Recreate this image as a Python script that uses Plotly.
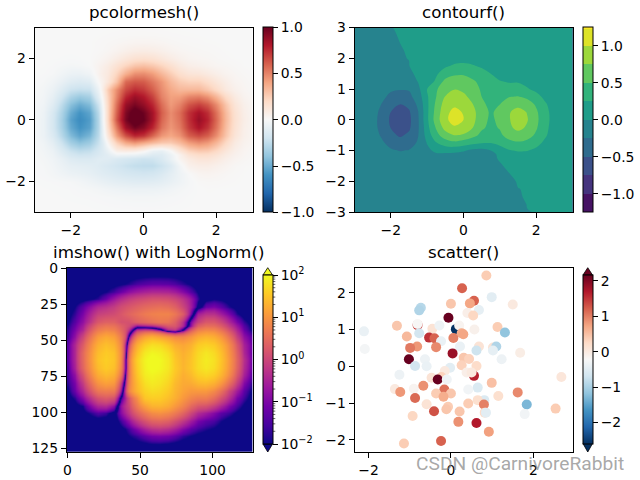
import plotly.graph_objects as go
from plotly.colors import sample_colorscale
import math

W, H = 640, 480
FONT = "DejaVu Sans"
TICK_PX = 13.9
TITLE_PX = 16.7

grid_x = [-3, -2.75, -2.5, -2.25, -2, -1.75, -1.5, -1.25, -1.125, -1, -0.75, -0.5, -0.25, 0,
          0.25, 0.5, 0.75, 1, 1.25, 1.5, 1.75, 2, 2.25, 2.5, 2.75, 3]
grid_y = [-3, -2.75, -2.5, -2.25, -2, -1.75, -1.5, -1.25, -1.125, -1, -0.75, -0.5, -0.25, 0,
          0.25, 0.5, 0.75, 1, 1.25, 1.5, 1.75, 2, 2.25, 2.5, 2.75, 3]

# field values (rows from y=-3 up to y=3)
field = [
 [-.0001,-.0001,-.0002,-.0003,-.0004,-.0006,-.0009,-.0013,-.0015,-.0017,-.002,-.0023,-.0025,-.0026,-.0025,-.0022,-.0018,-.0013,-.0008,-.0004,-.0001,.0001,.0001,.0001,.0001,.0001],
 [-.0002,-.0003,-.0005,-.0008,-.0012,-.002,-.003,-.0045,-.005,-.006,-.007,-.0082,-.0088,-.009,-.0088,-.0078,-.0062,-.0045,-.0027,-.0012,.0001,.0004,.0003,.0002,.0001,.0001],
 [-.0005,-.001,-.0016,-.0026,-.004,-.0055,-.0065,-.0085,-.01,-.012,-.017,-.02,-.022,-.022,-.021,-.018,-.013,-.0085,-.004,-.001,.001,.001,.0008,.0005,.0003,.0001],
 [-.001,-.002,-.003,-.004,-.006,-.01,-.016,-.025,-.031,-.038,-.048,-.055,-.06,-.06,-.058,-.05,-.035,-.02,-.009,-.001,.003,.002,.0015,.001,.0005,.0002],
 [-.002,-.004,-.006,-.0085,-.013,-.025,-.045,-.065,-.075,-.085,-.1,-.11,-.12,-.12,-.115,-.1,-.075,-.045,-.015,.005,.009,.008,.005,.003,.001,.0004],
 [-.004,-.01,-.022,-.04,-.06,-.07,-.085,-.11,-.12,-.13,-.15,-.17,-.18,-.19,-.18,-.15,-.1,-.05,-.003,.025,.03,.022,.012,.006,.002,.0005],
 [-.006,-.014,-.03,-.06,-.09,-.1,-.11,-.13,-.145,-.16,-.19,-.22,-.24,-.25,-.25,-.21,-.14,-.03,.05,.07,.07,.05,.03,.012,.004,.001],
 [-.009,-.02,-.04,-.08,-.13,-.15,-.15,-.12,-.12,-.12,-.15,-.17,-.19,-.21,-.2,-.15,-.07,.03,.09,.13,.13,.1,.06,.03,.014,.005],
 [-.011,-.025,-.05,-.11,-.175,-.205,-.195,-.15,-.13,-.11,-.04,-.05,-.06,-.09,-.13,-.13,-.06,.04,.145,.185,.18,.14,.085,.045,.02,.007],
 [-.013,-.03,-.06,-.14,-.22,-.26,-.24,-.17,-.13,-.07,.07,.09,.08,.03,-.06,-.08,.0,.13,.23,.27,.26,.2,.12,.06,.025,.009],
 [-.015,-.04,-.1,-.21,-.34,-.41,-.36,-.22,-.13,.02,.24,.38,.44,.38,.32,.27,.26,.32,.42,.47,.43,.33,.2,.09,.04,.02],
 [-.02,-.06,-.14,-.28,-.44,-.53,-.46,-.26,-.08,.11,.42,.64,.76,.72,.58,.44,.39,.45,.6,.66,.6,.46,.28,.13,.055,.025],
 [-.02,-.06,-.17,-.32,-.51,-.6,-.54,-.28,-.07,.17,.53,.85,.97,.91,.76,.54,.44,.52,.7,.82,.72,.53,.31,.15,.06,.024],
 [-.02,-.06,-.17,-.33,-.54,-.63,-.56,-.28,-.04,.2,.63,.95,1.1,1.0,.83,.58,.46,.55,.73,.87,.77,.56,.33,.16,.07,.025],
 [-.017,-.055,-.16,-.31,-.5,-.6,-.53,-.26,-.04,.2,.6,.93,1.07,.98,.83,.6,.47,.56,.73,.83,.74,.54,.32,.155,.065,.024],
 [-.016,-.04,-.12,-.26,-.42,-.5,-.44,-.2,-.01,.2,.56,.87,.95,.88,.76,.56,.43,.5,.63,.69,.62,.47,.28,.13,.055,.02],
 [-.013,-.03,-.085,-.19,-.31,-.37,-.33,-.1,.03,.22,.5,.76,.86,.8,.68,.5,.41,.42,.49,.51,.45,.33,.19,.09,.035,.014],
 [-.008,-.025,-.06,-.13,-.21,-.23,-.22,-.05,.07,.25,.47,.66,.74,.7,.6,.47,.38,.33,.33,.33,.27,.19,.1,.05,.022,.008],
 [-.005,-.013,-.035,-.075,-.12,-.14,-.12,.01,.05,.12,.29,.57,.62,.61,.53,.44,.33,.26,.23,.23,.18,.12,.07,.03,.016,.005],
 [-.002,-.005,-.011,-.035,-.06,-.065,-.04,.04,.07,.1,.22,.36,.46,.47,.42,.33,.25,.17,.13,.12,.09,.06,.033,.018,.008,.0015],
 [-.001,-.002,-.006,-.013,-.02,-.016,-.002,.035,.055,.08,.15,.22,.28,.3,.27,.22,.16,.1,.065,.05,.035,.022,.016,.008,.002,.0005],
 [-.0005,-.001,-.002,-.003,-.004,-.003,.001,.016,.026,.04,.08,.12,.155,.165,.15,.115,.08,.05,.03,.022,.018,.011,.005,.002,.001,.0003],
 [-.0003,-.0005,-.001,-.0015,-.0015,-.0008,.001,.006,.01,.016,.033,.055,.072,.078,.07,.055,.035,.022,.016,.012,.009,.005,.002,.001,.0005,.0002],
 [-.0001,-.0002,-.0004,-.0006,-.0005,.0,.001,.005,.007,.01,.015,.022,.028,.03,.028,.022,.014,.01,.007,.005,.003,.002,.001,.0005,.0002,.0001],
 [-.0001,-.0001,-.0002,-.0002,-.0002,.0001,.0006,.002,.003,.004,.006,.008,.0102,.0105,.009,.007,.005,.004,.003,.002,.001,.0006,.0003,.0002,.0001,.0001],
 [-.0001,-.0001,-.0001,-.0001,-.0001,.0003,.0005,.0008,.001,.0012,.0016,.002,.0023,.0024,.0022,.0018,.0014,.001,.0007,.0005,.0003,.0002,.0001,.0001,.0001,.0001],
]

# scatter points
scatter_x = [.12,-.81,1.13,-1.31,0.0,.27,-.73,-.77,-.06,-.81,-.45,-.28,.2,.26,.3,-2.11,-.77,-1.07,-.53,-.4,.06,-.24,-.82,-.99,-.36,.22,-2.09,.04,-1.02,-.63,
             .86,.99,1.5,.56,.46,.68,.4,.54,1.31,.57,.68,1.02,1.1,.62,1.02,1.68,.31,.44,1.23,
             -.87,-.59,-.02,.26,-1.25,-.15,-.47,-.23,-.32,-.1,-1.36,-1.23,-.9,-.67,-.16,-.36,0.0,-.18,-.87,-.59,-.41,-.07,-.11,-.93,.21,.18,-.24,-1.14,
             .62,.56,.38,.5,2.68,.99,.65,.42,1.62,1.15,.81,.65,.42,.8,1.84,.82,.85,2.54,1.79,.62,.92]
scatter_y = [1.01,1.12,1.07,1.1,1.7,2.12,1.59,1.52,1.32,1.15,1.02,1.11,1.11,.9,.87,.95,.9,.81,.78,.76,.77,.68,.54,.5,.52,.54,.47,.35,.19,.19,
             2.47,1.88,1.68,1.78,1.71,1.53,1.45,1.38,.92,1.0,.54,.51,.54,.43,.43,.37,.23,.2,.19,
             .01,0.0,-.04,.03,-.23,-.13,-.31,-.29,-.36,-.36,-.62,-.7,-.61,-.53,-.63,-.74,-.74,-.83,-.86,-1.03,-1.22,-1.1,-1.17,-1.35,-1.23,-1.51,-2.03,-2.1,
             .01,-.26,-.17,-.17,-.29,-.45,-.58,-.63,-.71,-.81,-.92,-.92,-1.01,-1.04,-1.04,-1.26,-1.26,-1.15,-1.3,-1.54,-1.78]
scatter_c = [-2.6,1.42,.39,.45,.45,1.2,-.89,-.94,2.17,-.2,.12,-.34,-.15,.66,.72,-.38,-.66,.56,1.53,1.2,.99,-.38,.83,1.04,.93,-.38,-.26,1.85,2.17,-.34,
             .39,-.48,.02,1.2,.72,-.43,-.07,.29,-1.17,-.1,.12,.12,-.94,-.71,-.43,-.04,.45,.34,-.34,
             -.66,-.38,-.48,.34,-.34,.02,.12,.34,2.17,-.31,.02,.83,-.15,.88,1.1,.39,.45,.66,1.15,.12,1.31,.39,.45,.29,.45,.88,1.2,.39,
             .23,1.64,-.07,.02,.07,.5,-.57,-.29,.93,.18,-.57,.18,.39,.99,-1.3,.23,-.48,.39,-.29,1.69,.77]

titles = ["pcolormesh()", "contourf()", "imshow() with LogNorm()", "scatter()"]
watermark = "CSDN @CarnivoreRabbit"

RDBU_R = ["#053061","#2166ac","#4393c3","#92c5de","#d1e5f0","#f7f7f7","#fddbc7","#f4a582","#d6604d","#b2182b","#67001f"]
rdbu = [[i/10, c] for i, c in enumerate(RDBU_R)]

def px(x): return x / W
def py(y): return 1 - y / H

axes_box = {"1": (34.5, 252.5, 27.5, 212), "2": (354.5, 572.5, 27.5, 212),
            "3": (66.7, 252.5, 267.7, 452), "4": (354.5, 572.5, 267.7, 452)}

def cbar(x0, top, bottom, tickvals, ticktext):
    return dict(xref="paper", yref="paper", x=px(x0), xanchor="left",
                y=py((top + bottom) / 2), yanchor="middle",
                lenmode="fraction", len=(bottom - top) / H,
                thicknessmode="pixels", thickness=9.5, xpad=0, ypad=0,
                outlinewidth=1, outlinecolor="black", ticks="outside", ticklen=4.9,
                tickwidth=1, tickcolor="black", tickfont=dict(family=FONT, size=TICK_PX, color="black"),
                tickvals=tickvals, ticktext=ticktext, tickmode="array")

fig = go.Figure()

fig.add_trace(go.Heatmap(x=grid_x, y=grid_y, z=field, zmin=-1, zmax=1, colorscale=rdbu, zsmooth="best",
                         xaxis="x", yaxis="y",
                         colorbar=cbar(263, 27.5, 212, [-1, -.5, 0, .5, 1], ["\u22121.0", "\u22120.5", "0.0", "0.5", "1.0"])))

fig.add_trace(go.Contour(x=grid_x, y=grid_y, z=field, zmin=-1.25, zmax=1.25, autocontour=False,
                         contours=dict(start=-1.25, end=1.25, size=.25, coloring="fill", showlines=False),
                         line=dict(width=0, smoothing=1), colorscale="Viridis", xaxis="x2", yaxis="y2",
                         colorbar=cbar(583, 27.5, 212, [-1, -.5, 0, .5, 1], ["\u22121.0", "\u22120.5", "0.0", "0.5", "1.0"])))

# log panel: signed field drawn through a colour scale that follows the 100*z^2 log norm
stops = []
n = 40
mags = [10 ** (-2 + 2 * i / n) for i in range(n + 1)]
cols = sample_colorscale("Plasma", [i / n for i in range(n + 1)])
for m, c in zip(reversed(mags), reversed(cols)):
    stops.append([(1 - m) / 2, c])
for m, c in zip(mags, cols):
    stops.append([(1 + m) / 2, c])
img_x = [(v + 3) * 127 / 6 for v in grid_x]
img_y = [(v + 3) * 127 / 6 for v in grid_y]
fig.add_trace(go.Heatmap(x=img_x, y=img_y, z=field, zmin=-1, zmax=1, colorscale=stops, zsmooth="best",
                         showscale=False, xaxis="x3", yaxis="y3"))
fig.add_trace(go.Scatter(x=[None], y=[None], mode="markers", xaxis="x3", yaxis="y3", showlegend=False,
                         marker=dict(color=[0], cmin=-2, cmax=2, colorscale="Plasma", showscale=True,
                                     colorbar=cbar(263, 275, 444, [-2, -1, 0, 1, 2],
                                                   ["10<sup>\u22122</sup>", "10<sup>\u22121</sup>", "10<sup>0</sup>", "10<sup>1</sup>", "10<sup>2</sup>"]))))

fig.add_trace(go.Scatter(x=scatter_x, y=scatter_y, mode="markers", xaxis="x4", yaxis="y4", showlegend=False,
                         marker=dict(size=10, color=scatter_c, cmin=-2.6, cmax=2.17, colorscale=rdbu, line=dict(width=0),
                                     opacity=1, showscale=True,
                                     colorbar=cbar(583, 275, 443.5, [-2, -1, 0, 1, 2], ["\u22122", "\u22121", "0", "1", "2"]))))

def axis(**kw):
    d = dict(showgrid=False, zeroline=False, showline=True, linecolor="black", linewidth=1, mirror=True,
             ticks="outside", ticklen=4.9, tickwidth=1, tickcolor="black",
             tickfont=dict(family=FONT, size=TICK_PX, color="black"))
    d.update(kw)
    return d

layout = dict(width=W, height=H, margin=dict(l=0, r=0, t=0, b=0, autoexpand=False), autosize=False,
              paper_bgcolor="white", plot_bgcolor="white", showlegend=False,
              font=dict(family=FONT, size=TICK_PX, color="black"))
ranges = {
    "1": dict(x=dict(range=[-3, 3], tickvals=[-2, 0, 2]), y=dict(range=[-3, 3], tickvals=[-2, 0, 2])),
    "2": dict(x=dict(range=[-3, 3], tickvals=[-2, 0, 2]), y=dict(range=[-3, 3], tickvals=[-3, -2, -1, 0, 1, 2, 3])),
    "3": dict(x=dict(range=[-.5, 127.5], tickvals=[0, 50, 100]), y=dict(range=[127.5, -.5], tickvals=[0, 25, 50, 75, 100, 125])),
    "4": dict(x=dict(range=[-2.34, 2.95], tickvals=[-2, 0, 2]), y=dict(range=[-2.33, 2.68], tickvals=[-2, -1, 0, 1, 2])),
}
for k, (l, r, t, b) in axes_box.items():
    sx = "" if k == "1" else k
    layout["xaxis" + sx] = axis(domain=[px(l), px(r)], anchor="y" + sx, **ranges[k]["x"])
    layout["yaxis" + sx] = axis(domain=[py(b), py(t)], anchor="x" + sx, **ranges[k]["y"])

annotations = []
title_pos = [(143.5, 12), (463.5, 12), (158.5, 252), (463.5, 252)]
for text, (cx, cy) in zip(titles, title_pos):
    annotations.append(dict(text=text, xref="paper", yref="paper", x=px(cx), y=py(cy), xanchor="center",
                            yanchor="middle", showarrow=False, font=dict(family=FONT, size=TITLE_PX, color="black")))
annotations.append(dict(text=watermark, xref="paper", yref="paper", x=px(519.5), y=py(463.5), xanchor="center",
                        yanchor="middle", showarrow=False, font=dict(family="Roboto", size=19.2, color="rgba(130,130,130,0.7)")))
layout["annotations"] = annotations

shapes = []
def tri(x0, x1, ybase, ytip, color):
    return dict(type="path", xref="paper", yref="paper", layer="above",
                path=f"M{px(x0)},{py(ybase)} L{px((x0+x1)/2)},{py(ytip)} L{px(x1)},{py(ybase)} Z",
                fillcolor=color, line=dict(color="black", width=.8))
shapes += [tri(263, 272.5, 275, 267.7, "#f0f921"), tri(263, 272.5, 444, 452, "#0d0887"),
           tri(583, 592.5, 275, 267.7, "#67001f"), tri(583, 592.5, 443.5, 452, "#053061")]
# minor ticks on the log colour bar
for dec in range(-2, 2):
    for m in range(2, 10):
        v = dec + math.log10(m)
        yy = 444 - (v + 2) / 4 * (444 - 275)
        shapes.append(dict(type="line", xref="paper", yref="paper", x0=px(272.5), x1=px(275.3), y0=py(yy), y1=py(yy),
                           line=dict(color="black", width=.6)))
layout["shapes"] = shapes

fig.update_layout(**layout)
fig.write_html("out.html", config={"displayModeBar": False}, post_script="document.body.style.margin='0';")
